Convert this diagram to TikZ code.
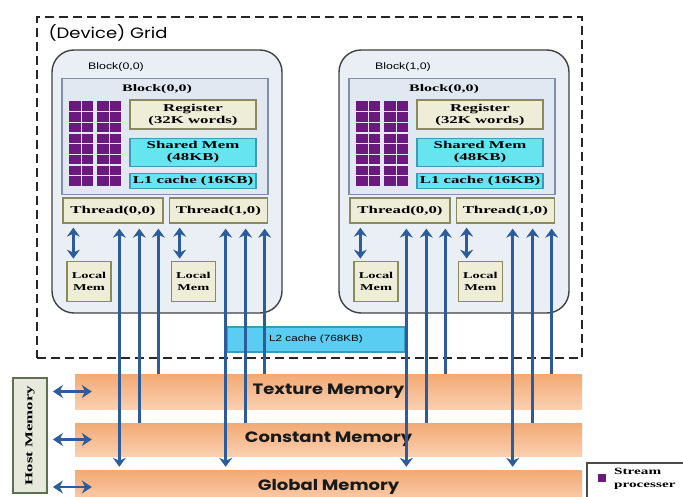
\documentclass[tikz,border=0pt]{standalone}
\usepackage{fontspec}
\usetikzlibrary{arrows.meta,positioning,calc}
\newfontfamily\boxfont[FakeStretch=1.6]{Liberation Serif}
\newfontfamily\labfont[FakeStretch=1.3]{Liberation Sans}
\newfontfamily\memfont[FakeStretch=1.2]{Poppins}
\definecolor{gpublue}{HTML}{2C5C9C}
\definecolor{blkfill}{HTML}{EAEFF6}
\definecolor{innfill}{HTML}{E1E8F2}
\definecolor{innline}{HTML}{8090A8}
\definecolor{khaki}{HTML}{EEEDD8}
\definecolor{khakiline}{HTML}{8A8A5C}
\definecolor{cyanfill}{HTML}{66E4F0}
\definecolor{cyanline}{HTML}{3A9CB8}
\definecolor{spurple}{HTML}{6A1A7C}
\definecolor{bandtop}{HTML}{F3A974}
\definecolor{bandbot}{HTML}{FAD0B0}
\definecolor{hostfill}{HTML}{E6E9DC}
\definecolor{hostline}{HTML}{5F7050}

\begin{document}
\begin{tikzpicture}[x=1pt, y=-1pt,
  devgrid/.style={draw=black!85, line width=1.4pt, dash pattern=on 9pt off 5pt},
  blk/.style={draw=black!75, line width=1.4pt, rounded corners=22pt, fill=blkfill,
              minimum width=230pt, minimum height=263pt},
  inbox/.style={draw=innline, line width=1.8pt, fill=innfill,
                minimum width=206pt, minimum height=116pt},
  kbox/.style={draw=khakiline, line width=1.3pt, fill=khaki, align=center, inner sep=1pt,
               font=\boxfont\bfseries\fontsize{10.5}{12}\selectfont},
  cbox/.style={kbox, draw=cyanline, fill=cyanfill},
  thread/.style={kbox, minimum height=25pt},
  lmem/.style={kbox, font=\boxfont\bfseries\fontsize{9}{11.5}\selectfont,
               minimum width=44pt, minimum height=40pt},
  lab/.style={font=\labfont\fontsize{9.5}{11}\selectfont},
  ttl/.style={font=\boxfont\bfseries\fontsize{10}{11}\selectfont},
  band/.style={top color=bandtop, bottom color=bandbot, minimum width=507pt,
               font=\memfont\bfseries\fontsize{15}{17}\selectfont, text=black!90},
  dline/.style={draw=gpublue, line width=3.4pt, {Stealth[length=9pt,width=13pt]}-{Stealth[length=9pt,width=13pt]}},
  uline/.style={draw=gpublue, line width=3.4pt, -{Stealth[length=9pt,width=13pt]}},
  harrow/.style={draw=gpublue, line width=2.8pt, {Stealth[length=10pt,width=13pt]}-{Stealth[length=10pt,width=13pt]}},
]
\useasboundingbox (0,0) rectangle (683,497);
\clip (0,0) rectangle (683,497);

% grid
\node[devgrid, minimum width=545pt, minimum height=341pt] (grid) at (309.5,187.5) {};
\node[font=\memfont\fontsize{15}{17}\selectfont, anchor=west] (gtitle) at (45,33) {(Device) Grid};

% the two blocks
\foreach \b/\dx/\lab in {L/0/{Block(0,0)}, R/287/{Block(1,0)}} {
  \begin{scope}[xshift=\dx pt]
    \node[blk] (blk\b) at (167,181.5) {};
    \node[lab] (blab\b) at (116,67) {\lab};
    \node[inbox] (in\b) at (165,136.5) {};
    \node[ttl] (bt\b) at (157,89) {Block(0,0)};
    % stream processors
    \foreach \c in {0,1}
      \foreach \i in {0,1}
        \foreach \r in {0,...,7}
          \fill[spurple] ({69+\c*28+\i*12.5},{101.5+\r*10.7}) rectangle ++(11.5,9.4);
    \node[kbox, minimum width=126pt, minimum height=29pt] (reg\b) at (193,114.5) {Register\\(32K words)};
    \node[cbox, minimum width=126pt, minimum height=28pt, below=8pt of reg\b] (shm\b) {Shared Mem\\(48KB)};
    \node[cbox, minimum width=126pt, minimum height=15pt, below=6pt of shm\b] (lone\b) {L1 cache (16KB)};
    \node[thread, minimum width=100pt] (tA\b) at (113,210.5) {Thread(0,0)};
    \node[thread, minimum width=98pt, right=5pt of tA\b] (tB\b) {Thread(1,0)};
    \node[lmem, below right=37pt and 4pt of tA\b.south west] (lmA\b) {Local\\Mem};
    \node[lmem, below right=37pt and 2pt of tB\b.south west] (lmB\b) {Local\\Mem};
  \end{scope}
}

\node[cbox, fill=cyanfill!90!blue, draw=cyanline, font=\labfont\fontsize{9}{11}\selectfont,
      minimum width=178pt, minimum height=25pt] (ltwo) at (316,339.5) {L2 cache (768KB)};

% memories
\node[band, minimum height=35pt] (tex) at (328.5,391.5) {Texture Memory};
\node[band, minimum height=33pt] (con) at (328.5,439.5) {Constant Memory};
\node[band, minimum height=34pt] (glob) at (328.5,487) {Global Memory};

\node[draw=hostline, line width=1.8pt, fill=hostfill, minimum width=34pt, minimum height=115pt] (host) at (30,435.5) {};
\node[rotate=90, font=\boxfont\bfseries\fontsize{10.5}{12}\selectfont] (hostname) at (host.center) {Host Memory};
\foreach \m in {tex,con,glob}
  \draw[harrow] ($(host.east |- \m.west)+(5,0)$) -- ($(\m.west)+(17,0)$);

% thread connections
\foreach \t/\m in {tAL/lmAL, tBL/lmBL, tAR/lmAR, tBR/lmBR} {
  \coordinate (q) at ([xshift=11pt,yshift=-4pt]\t.south west);
  \draw[dline, shorten >=2pt] (q) -- (q |- \m.north);
  \coordinate (g) at ([xshift=57pt,yshift=-5pt]\t.south west);
  \draw[dline, shorten >=3pt] (g) -- (g |- glob.north);
  \coordinate (c) at ([xshift=77pt,yshift=-5pt]\t.south west);
  \draw[uline] (c |- con.north) -- (c);
  \coordinate (x) at ([xshift=96pt,yshift=-5pt]\t.south west);
  \draw[uline] (x |- tex.north) -- (x);
}

% legend
\draw[draw=black!70, line width=1.2pt] (587,500) |- (690,463);
\node[fill=spurple, minimum size=8pt, inner sep=0pt] (spkey) at (602,478) {};
\node[font=\boxfont\bfseries\fontsize{9.5}{12.5}\selectfont, anchor=west, align=left, inner sep=0pt] (spname) at (614,479) {Stream\\processer};
\end{tikzpicture}
\end{document}
